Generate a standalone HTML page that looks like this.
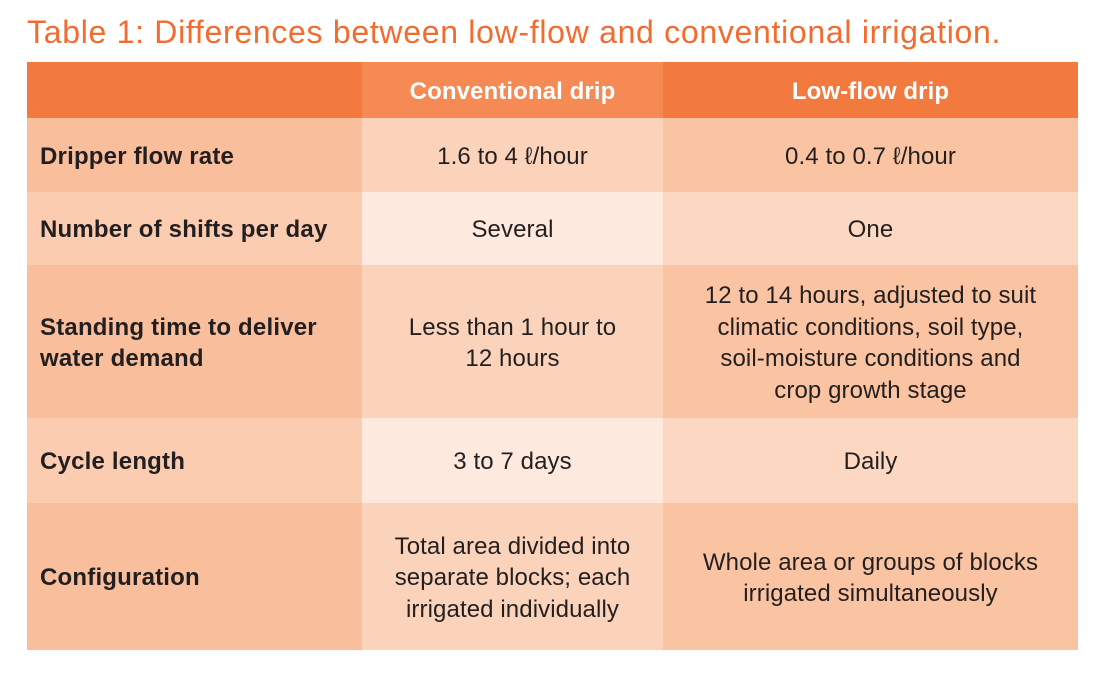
<!DOCTYPE html>
<html><head><meta charset="utf-8"><style>
body{margin:0;width:1103px;height:675px;background:#fff;font-family:"Liberation Sans",sans-serif;position:relative;overflow:hidden}
.t{position:absolute;left:27px;top:14px;font-size:32px;color:#f26c30;letter-spacing:0.7px;white-space:nowrap}
.c{position:absolute;display:flex;align-items:center;box-sizing:border-box;padding-top:3px;font-size:24px;letter-spacing:0.1px;color:#231f20;line-height:31.5px}
.l{padding-left:13px;font-weight:bold;letter-spacing:0.2px}
.m{justify-content:center;text-align:center}
.h{color:#fff;font-weight:bold;font-size:24px}
</style></head><body>
<div class="t">Table 1: Differences between low-flow and conventional irrigation.</div>

<div class="c" style="left:27px;top:62px;width:335px;height:56px;background:#f37a3e"></div>
<div class="c m h" style="left:362px;top:62px;width:301px;height:56px;background:#f58a55">Conventional drip</div>
<div class="c m h" style="left:663px;top:62px;width:415px;height:56px;background:#f37a3e">Low-flow drip</div>

<div class="c l" style="left:27px;top:118px;width:335px;height:74px;background:#f9bf9c">Dripper flow rate</div>
<div class="c m" style="left:362px;top:118px;width:301px;height:74px;background:#fbd3ba">1.6 to 4 ℓ/hour</div>
<div class="c m" style="left:663px;top:118px;width:415px;height:74px;background:#fac3a2">0.4 to 0.7 ℓ/hour</div>

<div class="c l" style="left:27px;top:192px;width:335px;height:73px;background:#fbccaf">Number of shifts per day</div>
<div class="c m" style="left:362px;top:192px;width:301px;height:73px;background:#fde9de">Several</div>
<div class="c m" style="left:663px;top:192px;width:415px;height:73px;background:#fcd7c1">One</div>

<div class="c l" style="left:27px;top:265px;width:335px;height:153px;background:#f9bf9c">Standing time to deliver<br>water demand</div>
<div class="c m" style="left:362px;top:265px;width:301px;height:153px;background:#fbd3ba">Less than 1 hour to<br>12 hours</div>
<div class="c m" style="left:663px;top:265px;width:415px;height:153px;background:#fac3a2">12 to 14 hours, adjusted to suit<br>climatic conditions, soil type,<br>soil-moisture conditions and<br>crop growth stage</div>

<div class="c l" style="left:27px;top:418px;width:335px;height:85px;background:#fbccaf">Cycle length</div>
<div class="c m" style="left:362px;top:418px;width:301px;height:85px;background:#fde9de">3 to 7 days</div>
<div class="c m" style="left:663px;top:418px;width:415px;height:85px;background:#fcd7c1">Daily</div>

<div class="c l" style="left:27px;top:503px;width:335px;height:147px;background:#f9bf9c">Configuration</div>
<div class="c m" style="left:362px;top:503px;width:301px;height:147px;background:#fbd3ba">Total area divided into<br>separate blocks; each<br>irrigated individually</div>
<div class="c m" style="left:663px;top:503px;width:415px;height:147px;background:#fac3a2">Whole area or groups of blocks<br>irrigated simultaneously</div>
</body></html>
